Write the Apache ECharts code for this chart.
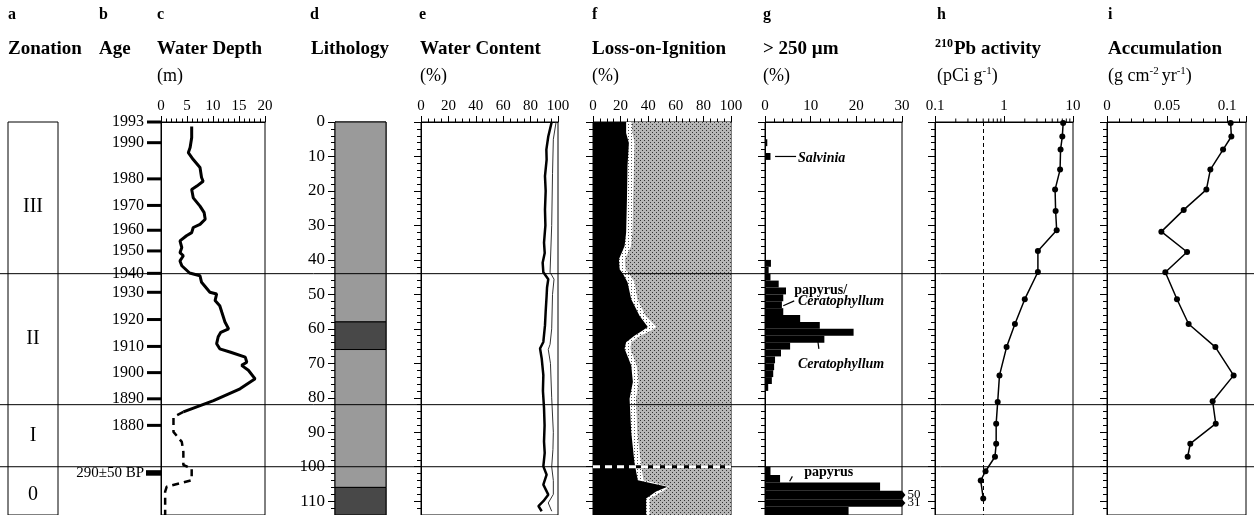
<!DOCTYPE html>
<html><head><meta charset="utf-8">
<script src="https://cdn.jsdelivr.net/npm/echarts@6/dist/echarts.min.js"></script>
<style>html,body{margin:0;padding:0;background:#fff}#c{width:1254px;height:515px}</style>
</head><body><div id="c"></div>
<script>
// ---------------- DATA ----------------
const depthTicks = [0, 10, 20, 30, 40, 50, 60, 70, 80, 90, 100, 110];
const depthMax = 114;

const zoneBoundaries = [44, 82, 100];
const zoneNames = ['III', 'II', 'I', '0'];
const zoneLabelDepths = [24.5, 63, 91, 108];

const ageYears  = [1993, 1990, 1980, 1970, 1960, 1950, 1940, 1930, 1920, 1910, 1900, 1890, 1880];
const ageDepths = [0, 6, 16.5, 24.2, 31.4, 37.4, 43.9, 49.4, 57.3, 65.1, 72.7, 80.3, 88.0];
const bpLabel = '290\u00b150 BP';
const bpDepthTop = 101.0, bpDepthBottom = 102.6;

// c: water depth (m)
const wdSolidDepth = [1.3, 4.6, 7.4, 8.9, 10.9, 13.2, 16.1, 17.2, 18.6, 19.6, 22, 24.4, 26.3, 28.2, 29.7, 30.6, 32.1, 33, 34.5, 36.4, 37.9, 38.8, 40.3, 41.7, 43.8, 44.6, 46.5, 49.4, 49.9, 51.8, 53.3, 55.2, 58.0, 60, 61, 62.3, 64.3, 65.8, 66.8, 68.2, 69.7, 70.6, 72.0, 74.5, 77.4, 80.8, 84.1];
const wdSolid      = [5.9, 5.9, 5.6, 5.25, 6.2, 7.5, 7.8, 8.1, 6.9, 5.9, 6.2, 7.5, 8.3, 8.5, 7.5, 6.2, 5.9, 4.9, 3.65, 4.0, 3.65, 4.3, 3.65, 4.0, 5.5, 7.5, 7.8, 9.4, 10.7, 10.4, 11.3, 11.7, 12.3, 13.0, 11.5, 11.0, 10.7, 11.3, 13.4, 16.2, 16.5, 15.5, 16.8, 18.1, 15.2, 10.1, 4.3];
const wdDashDepth  = [84.1, 85.6, 89.9, 92.8, 95.7, 99.5, 100.5, 103.9, 105.8, 107.2, 114];
const wdDash       = [4.3, 2.4, 2.4, 4.0, 4.3, 4.3, 5.9, 5.9, 1.1, 0.8, 0.8];

// d: lithology
const lithTop    = [0, 58, 66, 106];
const lithBottom = [58, 66, 106, 114];
const lithDark   = [0, 1, 0, 1];

// e: water content (%)
const wcDepth = [0, 4.2, 8, 10.9, 15.7, 20, 25.4, 30, 35, 38, 40.8, 43.6, 45.6, 48, 50.4, 55, 59, 63.8, 65.7, 68.6, 73.4, 78, 83, 88, 92.7, 96, 99.9, 102.3, 105.2, 108.1, 110, 111.4, 112.9];
const wcThick = [95.4, 92.9, 91.5, 91.7, 90.5, 91.0, 90.5, 90.8, 89.8, 90.3, 88.8, 89.3, 92.9, 92.0, 91.7, 91.0, 90.5, 89.3, 86.9, 88.1, 89.3, 89.0, 89.8, 90.2, 89.8, 90.3, 89.3, 91.7, 89.3, 92.9, 89.3, 85.7, 88.1];
const wcThinDepth = [0, 5, 15, 30, 43.6, 45.6, 50, 60, 64.5, 66, 70, 80, 90, 95, 100, 104, 108, 110.5, 112.9];
const wcThin      = [98.6, 96.6, 96.0, 95.4, 94.2, 97.1, 96.0, 95.4, 94.2, 92.9, 94.5, 95.4, 96.6, 96.3, 95.4, 96.6, 96.6, 92.9, 95.4];

// f: loss-on-ignition (%)
const loiDepth = [0, 3.2, 6.1, 12.8, 22.4, 32.1, 36, 39.8, 42.7, 44, 46.5, 51.4, 56.2, 59.5, 60.5, 62, 63.9, 65.8, 70.6, 75.4, 80.3, 89.9, 98.6, 101.5, 103.9, 105.8, 107.2, 109.2, 114];
const loiOrganic = [24, 24, 26, 25, 24.6, 24, 22.9, 18.8, 19.3, 21.7, 25, 27.7, 33.7, 39.7, 36, 30, 24, 22.9, 27.7, 28.9, 26.5, 27.7, 30, 31.3, 32.5, 54, 45.7, 38.5, 38.5];
const loiBand    = [28, 28.5, 30, 29.5, 29, 28.5, 27.5, 23, 23.5, 26, 30, 32, 38, 45.7, 42, 34, 27.5, 27, 31.5, 33, 31, 32, 34.5, 35.5, 36.5, 55, 50, 41, 41];

// g: > 250 um (%)
const gTop    = [5, 9, 40, 42, 44, 46, 48, 50, 52, 54, 56, 58, 60, 62, 64, 66, 68, 70, 72, 74, 76, 100, 102.4, 104.6, 107, 109.4, 111.6];
const gBottom = [7, 11, 42, 44, 46, 48, 50, 52, 54, 56, 58, 60, 62, 64, 66, 68, 70, 72, 74, 76, 78, 102.4, 104.6, 107, 109.4, 111.6, 114];
const gValues = [0.5, 1.2, 1.3, 0.8, 1.2, 3.0, 4.6, 4.0, 3.7, 4.0, 7.7, 12.0, 19.4, 13.0, 5.5, 3.5, 2.2, 2.0, 1.8, 1.5, 0.7, 1.2, 3.3, 25.2, 50, 31, 18.3];
const gNotes = [
  {text: 'Salvinia', italic: true, depth: 10.5, value: 7.2, lead: [[2.2, 10], [6.8, 10]]},
  {text: 'papyrus/', italic: false, depth: 48.8, value: 6.4, lead: null},
  {text: 'Ceratophyllum', italic: true, depth: 51.9, value: 7.2, lead: [[4.0, 53.3], [6.4, 51.9]]},
  {text: 'Ceratophyllum', italic: true, depth: 70.2, value: 7.2, lead: [[11.5, 62.8], [11.8, 65.8]]},
  {text: 'papyrus', italic: false, depth: 101.7, value: 8.6, lead: [[5.4, 104.2], [6.0, 102.8]]}
];

// h: 210Pb activity (pCi/g)
const pbDepth = [0.3, 4.2, 8, 13.8, 19.6, 25.8, 31.4, 37.4, 43.5, 51.4, 58.6, 65.3, 73.5, 81.2, 87.5, 93.3, 97.1, 101.3, 104, 109.2];
const pbValue = [7.2, 7.0, 6.6, 6.5, 5.5, 5.6, 5.8, 3.1, 3.1, 2.0, 1.44, 1.09, 0.86, 0.81, 0.77, 0.77, 0.74, 0.54, 0.46, 0.50];
const pbSupported = 0.5;
const pbMinorTicks = [0.2, 0.3, 0.4, 0.5, 0.6, 0.7, 0.8, 0.9, 2, 3, 4, 5, 6, 7, 8, 9];

// i: accumulation (g cm-2 yr-1)
const accDepth = [0.3, 4.2, 8, 13.8, 19.6, 25.5, 31.8, 37.7, 43.6, 51.4, 58.6, 65.3, 73.5, 81, 87.5, 93.3, 97.1];
const accValue = [0.103, 0.1036, 0.0967, 0.0861, 0.0828, 0.0639, 0.0453, 0.0667, 0.0486, 0.0583, 0.068, 0.0903, 0.1055, 0.088, 0.0906, 0.0694, 0.0672];

// ---------------- CHART ----------------
const FONT = '"Liberation Serif", "Times New Roman", serif';
const chart = echarts.init(document.getElementById('c'), null, {renderer: 'canvas', width: 1254, height: 515});

function pattern(bg, dot, pts, size) {
  const c = document.createElement('canvas');
  c.width = c.height = size;
  const g = c.getContext('2d');
  g.fillStyle = bg; g.fillRect(0, 0, size, size);
  g.fillStyle = dot;
  pts.forEach(p => g.fillRect(p[0], p[1], 1, 1));
  return {image: c, repeat: 'repeat'};
}
const greyStipple = pattern('#b6b6b6', '#333333', [[0, 0], [2, 2]], 4);
const whiteDots = pattern('#ffffff', '#555555', [[1, 1]], 3);

const TOP = 122, HEIGHT = 394.4;
const panels = [
  {left: 8, width: 50},     // 0 a zonation
  {left: 161, width: 104},  // 1 c water depth
  {left: 335, width: 51},   // 2 d lithology
  {left: 421, width: 137},  // 3 e water content
  {left: 593, width: 138},  // 4 f LOI
  {left: 765, width: 137},  // 5 g >250
  {left: 935, width: 138},  // 6 h Pb
  {left: 1107, width: 139}, // 7 i accumulation
  {left: 0, width: 1254}    // 8 full-width overlay
];
const grid = panels.map((p, i) => ({
  left: p.left, width: p.width, top: TOP, height: HEIGHT,
  show: i !== 8, borderColor: '#000', borderWidth: 1, backgroundColor: 'transparent'
}));

const tickLine = {color: '#000', width: 1};
function topAxis(gi, type, min, max, interval, minorSplit, extra) {
  const ax = {
    gridIndex: gi, type: type, min: min, max: max, position: 'top',
    axisLine: {show: true, lineStyle: {color: '#000', width: 1}},
    axisTick: {show: true, length: 6, inside: false, lineStyle: tickLine},
    minorTick: {show: !!minorSplit, splitNumber: minorSplit || 5, length: 3.5, lineStyle: tickLine},
    axisLabel: {show: true, margin: 8, color: '#000', fontSize: 15, fontFamily: FONT},
    splitLine: {show: false}, minorSplitLine: {show: false}
  };
  if (interval) ax.interval = interval;
  return Object.assign(ax, extra || {});
}
function hiddenX(gi) { return {gridIndex: gi, type: 'value', min: 0, max: 1, show: false}; }

const xAxis = [
  hiddenX(0),
  topAxis(1, 'value', 0, 20, 5, 5),
  hiddenX(2),
  topAxis(3, 'value', 0, 100, 20, 4),
  topAxis(4, 'value', 0, 100, 20, 4),
  topAxis(5, 'value', 0, 30, 10, 5),
  topAxis(6, 'log', 0.1, 10, null, 0, {logBase: 10, minorTick: {show: false}}),
  topAxis(7, 'value', 0, 0.1158, 0.05, 5, {axisLabel: {show: true, margin: 8, color: '#000', fontSize: 15, fontFamily: FONT, showMaxLabel: false}}),
  hiddenX(8)
];

function depthAxis(gi, mode) {
  const ax = {
    gridIndex: gi, type: 'value', min: 0, max: depthMax, interval: 10, inverse: true,
    axisLine: {show: mode !== 'none', lineStyle: {color: '#000', width: 1}},
    axisTick: {show: mode === 'ticks' || mode === 'labels', length: 7, inside: false, lineStyle: tickLine},
    minorTick: {show: mode === 'ticks' || mode === 'labels', splitNumber: 5, length: 4, lineStyle: tickLine},
    axisLabel: {show: mode === 'labels', margin: 10, color: '#000', fontSize: 17, fontFamily: FONT,
                customValues: depthTicks},
    splitLine: {show: false}, minorSplitLine: {show: false}
  };
  if (mode === 'none') ax.show = false;
  return ax;
}
const yAxis = [
  depthAxis(0, 'none'),
  depthAxis(1, 'line'),
  depthAxis(2, 'labels'),
  depthAxis(3, 'ticks'),
  depthAxis(4, 'ticks'),
  depthAxis(5, 'ticks'),
  depthAxis(6, 'ticks'),
  depthAxis(7, 'ticks'),
  depthAxis(8, 'none')
];

const zip = (a, b) => a.map((v, i) => [v, b[i]]);

// polygon between two x-profiles
function bandSeries(gi, rows, which, fill, z) {
  return {
    type: 'custom', xAxisIndex: gi, yAxisIndex: gi, data: rows, z: z, silent: true,
    encode: {x: 1, y: 0},
    renderItem: function (params, api) {
      if (params.dataIndex !== 0) return null;
      const n = rows.length;
      const leftPts = [], rightPts = [];
      for (let i = 0; i < n; i++) {
        const d = api.value(0, i), a = api.value(1, i), b = api.value(2, i);
        let l, r;
        if (which === 0) { l = 0; r = a; }
        else if (which === 1) { l = a; r = b; }
        else { l = b; r = 100; }
        leftPts.push(api.coord([l, d]));
        rightPts.push(api.coord([r, d]));
      }
      const pts = leftPts.concat(rightPts.reverse());
      return {type: 'polygon', shape: {points: pts}, style: {fill: fill, stroke: null}};
    }
  };
}

const series = [];

// a: zone labels
series.push({
  type: 'custom', xAxisIndex: 0, yAxisIndex: 0, silent: true,
  data: zoneLabelDepths.map(d => [0.5, d]),
  renderItem: function (params, api) {
    const p = api.coord([api.value(0), api.value(1)]);
    return {type: 'text', x: p[0], y: p[1],
      style: {text: zoneNames[params.dataIndex], font: '20px ' + FONT, fill: '#000', align: 'center', verticalAlign: 'middle'}};
  }
});

// b: age ticks + labels on c's left edge
series.push({
  type: 'custom', xAxisIndex: 1, yAxisIndex: 1, silent: true,
  data: zip(ageDepths, ageYears),
  encode: {y: 0},
  renderItem: function (params, api) {
    const p = api.coord([0, api.value(0)]);
    return {type: 'group', children: [
      {type: 'line', shape: {x1: p[0] - 14, y1: p[1], x2: p[0], y2: p[1]}, style: {stroke: '#000', lineWidth: 3}},
      {type: 'text', x: p[0] - 17, y: p[1],
       style: {text: String(api.value(1)), font: '16px ' + FONT, fill: '#000', align: 'right', verticalAlign: 'middle'}}
    ]};
  }
});
series.push({
  type: 'custom', xAxisIndex: 1, yAxisIndex: 1, silent: true,
  data: [[bpDepthTop, bpDepthBottom]],
  encode: {y: 0},
  renderItem: function (params, api) {
    const a = api.coord([0, api.value(0)]), b = api.coord([0, api.value(1)]);
    return {type: 'group', children: [
      {type: 'rect', shape: {x: a[0] - 15, y: a[1], width: 16, height: b[1] - a[1]}, style: {fill: '#000'}},
      {type: 'text', x: a[0] - 17, y: (a[1] + b[1]) / 2,
       style: {text: bpLabel, font: '15px ' + FONT, fill: '#000', align: 'right', verticalAlign: 'middle'}}
    ]};
  }
});

// c: water depth
series.push({type: 'line', xAxisIndex: 1, yAxisIndex: 1, data: zip(wdSolid, wdSolidDepth), symbol: 'none',
  lineStyle: {color: '#000', width: 3}, silent: true, z: 3});
series.push({type: 'line', xAxisIndex: 1, yAxisIndex: 1, data: zip(wdDash, wdDashDepth), symbol: 'none',
  lineStyle: {color: '#000', width: 2.5, type: [7, 5]}, silent: true, z: 3});

// d: lithology
series.push({
  type: 'custom', xAxisIndex: 2, yAxisIndex: 2, silent: true,
  data: lithTop.map((t, i) => [t, lithBottom[i], lithDark[i]]),
  encode: {y: [0, 1]},
  renderItem: function (params, api) {
    const a = api.coord([0, api.value(0)]), b = api.coord([1, api.value(1)]);
    return {type: 'rect', shape: {x: a[0], y: a[1], width: b[0] - a[0], height: b[1] - a[1]},
      style: {fill: api.value(2) ? '#484848' : '#9a9a9a', stroke: '#000', lineWidth: 1}};
  }
});

// e: water content
series.push({type: 'line', xAxisIndex: 3, yAxisIndex: 3, data: zip(wcThin, wcThinDepth), symbol: 'none',
  lineStyle: {color: '#333', width: 1}, silent: true});
series.push({type: 'line', xAxisIndex: 3, yAxisIndex: 3, data: zip(wcThick, wcDepth), symbol: 'none',
  lineStyle: {color: '#000', width: 2.5}, silent: true});

// f: LOI
const loiRows = loiDepth.map((d, i) => [d, loiOrganic[i], loiBand[i]]);
series.push(bandSeries(4, loiRows, 2, greyStipple, 1));
series.push(bandSeries(4, loiRows, 1, whiteDots, 1));
series.push(bandSeries(4, loiRows, 0, '#000', 1));

// g: >250 um bars
series.push({
  type: 'custom', xAxisIndex: 5, yAxisIndex: 5, silent: true,
  data: gTop.map((t, i) => [t, gBottom[i], gValues[i]]),
  encode: {y: [0, 1]},
  renderItem: function (params, api) {
    const t = api.value(0), b = api.value(1), v = api.value(2);
    const vmax = 30;
    const a = api.coord([0, t]), c = api.coord([Math.min(v, vmax), b]);
    const children = [{type: 'rect', shape: {x: a[0], y: a[1], width: c[0] - a[0], height: c[1] - a[1]}, style: {fill: '#000'}}];
    if (v > vmax) {
      const tip = api.coord([vmax * 1.025, (t + b) / 2]);
      children.push({type: 'polygon', shape: {points: [[c[0], a[1]], [tip[0], tip[1]], [c[0], c[1]]]}, style: {fill: '#000'}});
      children.push({type: 'text', x: tip[0] + 2, y: tip[1],
        style: {text: String(v), font: '13px ' + FONT, fill: '#000', align: 'left', verticalAlign: 'middle'}});
    }
    return {type: 'group', children: children};
  }
});
series.push({
  type: 'custom', xAxisIndex: 5, yAxisIndex: 5, silent: true,
  data: gNotes.map(n => [n.value, n.depth]),
  renderItem: function (params, api) {
    const n = gNotes[params.dataIndex];
    const p = api.coord([api.value(0), api.value(1)]);
    const ch = [{type: 'text', x: p[0], y: p[1],
      style: {text: n.text, font: (n.italic ? 'italic ' : '') + 'bold 14px ' + FONT, fill: '#000', align: 'left', verticalAlign: 'middle'}}];
    if (n.lead) {
      const a = api.coord(n.lead[0]), b = api.coord(n.lead[1]);
      ch.push({type: 'line', shape: {x1: a[0], y1: a[1], x2: b[0], y2: b[1]}, style: {stroke: '#000', lineWidth: 1.2}});
    }
    return {type: 'group', children: ch};
  }
});

// h: 210Pb
series.push({type: 'line', xAxisIndex: 6, yAxisIndex: 6, data: zip(pbValue, pbDepth),
  symbol: 'circle', symbolSize: 6, itemStyle: {color: '#000'}, lineStyle: {color: '#000', width: 1.5}, silent: true,
  markLine: {silent: true, symbol: ['none', 'none'], label: {show: false},
    lineStyle: {color: '#000', width: 1, type: [4, 3]}, data: [{xAxis: pbSupported}]}});
// log minor ticks on top of h
series.push({
  type: 'custom', xAxisIndex: 6, yAxisIndex: 6, silent: true,
  data: pbMinorTicks.map(v => [v, 0]),
  renderItem: function (params, api) {
    const p = api.coord([api.value(0), 0]);
    const top = params.coordSys.y;
    return {type: 'line', shape: {x1: p[0], y1: top, x2: p[0], y2: top - 3.5}, style: {stroke: '#000', lineWidth: 1}};
  }
});

// i: accumulation
series.push({type: 'line', xAxisIndex: 7, yAxisIndex: 7, data: zip(accValue, accDepth),
  symbol: 'circle', symbolSize: 6, itemStyle: {color: '#000'}, lineStyle: {color: '#000', width: 1.5}, silent: true});

// zone boundary lines across the whole figure
series.push({
  type: 'custom', xAxisIndex: 8, yAxisIndex: 8, silent: true, z: 10,
  data: zoneBoundaries.map(d => [0, d]),
  encode: {y: 1},
  renderItem: function (params, api) {
    const p = api.coord([0, api.value(1)]);
    const cs = params.coordSys;
    return {type: 'line', shape: {x1: cs.x, y1: p[1], x2: cs.x + cs.width, y2: p[1]}, style: {stroke: '#000', lineWidth: 1}};
  }
});
// white dashed overlay for the lowest boundary inside LOI panel
series.push({
  type: 'custom', xAxisIndex: 4, yAxisIndex: 4, silent: true, z: 11,
  data: [[0, zoneBoundaries[2]]],
  encode: {y: 1},
  renderItem: function (params, api) {
    const p = api.coord([0, api.value(1)]);
    const cs = params.coordSys;
    return {type: 'group', children: [
      {type: 'line', shape: {x1: cs.x, y1: p[1], x2: cs.x + cs.width, y2: p[1]}, style: {stroke: '#000', lineWidth: 3}},
      {type: 'line', shape: {x1: cs.x, y1: p[1], x2: cs.x + cs.width, y2: p[1]}, style: {stroke: '#fff', lineWidth: 3, lineDash: [7, 5]}}
    ]};
  }
});

// ---------------- TITLES ----------------
const measureCtx = document.createElement('canvas').getContext('2d');
function txt(x, y, s, font) {
  return {type: 'text', x: x, y: y, style: {text: s, font: font, fill: '#000', align: 'left', verticalAlign: 'middle'}};
}
// sequence of text pieces laid out left to right (for superscripts)
function seq(x, y, parts) {
  const out = [];
  let cx = x;
  parts.forEach(p => {
    out.push(txt(cx, y + (p[2] || 0), p[0], p[1]));
    measureCtx.font = p[1];
    cx += measureCtx.measureText(p[0]).width + (p[3] || 0);
  });
  return out;
}
const LET = 'bold 16px ' + FONT, TIT = 'bold 19px ' + FONT, UNIT = '18px ' + FONT, SUP = '11px ' + FONT, SUPB = 'bold 12px ' + FONT;
const graphic = [
  txt(8, 15, 'a', LET), txt(99, 15, 'b', LET), txt(157, 15, 'c', LET), txt(310, 15, 'd', LET), txt(419, 15, 'e', LET),
  txt(592, 15, 'f', LET), txt(763, 15, 'g', LET), txt(937, 15, 'h', LET), txt(1108, 15, 'i', LET),
  txt(8, 49, 'Zonation', TIT), txt(99, 49, 'Age', TIT), txt(157, 49, 'Water Depth', TIT), txt(311, 49, 'Lithology', TIT),
  txt(420, 49, 'Water Content', TIT), txt(592, 49, 'Loss-on-Ignition', TIT), txt(763, 49, '> 250 \u00b5m', TIT),
  txt(1108, 49, 'Accumulation', TIT),
  txt(157, 76, '(m)', UNIT), txt(420, 76, '(%)', UNIT), txt(592, 76, '(%)', UNIT), txt(763, 76, '(%)', UNIT)
].concat(
  seq(935, 49, [['210', SUPB, -5, 1], ['Pb activity', TIT]]),
  seq(937, 76, [['(pCi g', UNIT], ['-1', SUP, -5], [')', UNIT]]),
  seq(1108, 76, [['(g cm', UNIT], ['-2', SUP, -5, 3], ['yr', UNIT], ['-1', SUP, -5], [')', UNIT]])
);

chart.setOption({
  animation: false,
  backgroundColor: '#fff',
  textStyle: {fontFamily: FONT},
  grid: grid,
  xAxis: xAxis,
  yAxis: yAxis,
  series: series,
  graphic: graphic
});
</script>
</body></html>
